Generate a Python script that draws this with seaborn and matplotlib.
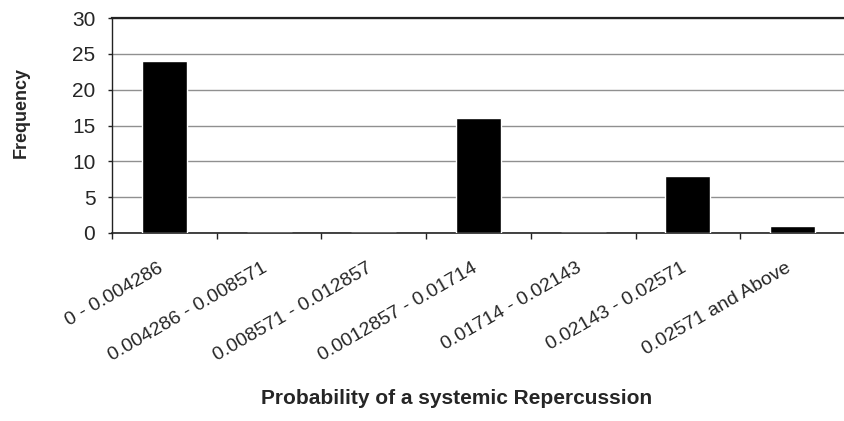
import matplotlib
matplotlib.use("Agg")
import matplotlib.pyplot as plt
import matplotlib.transforms as mtransforms
import seaborn as sns
import pandas as pd
import numpy as np

categories = ["0 - 0.004286", "0.004286 - 0.008571", "0.008571 - 0.012857",
              "0.0012857 - 0.01714", "0.01714 - 0.02143", "0.02143 - 0.02571",
              "0.02571 and Above"]
frequency = [24, 0, 0, 16, 0, 8, 1]
yticks = [0, 5, 10, 15, 20, 25, 30]

sns.set_style("white")
plt.rcParams['font.family'] = ['Liberation Sans', 'DejaVu Sans']

df = pd.DataFrame({"bin": categories, "freq": frequency})

fig = plt.figure(figsize=(8.45, 4.21), dpi=100)
ax = fig.add_axes([0.1325, 0.4466, 0.8675, 0.5106])
sns.barplot(data=df, x="bin", y="freq", color="black", width=0.43,
            saturation=1, ax=ax, zorder=3)

ax.set_ylim(0, 30)
ax.set_yticks(yticks)
ax.set_xlim(-0.5, len(categories) - 0.5)
ax.yaxis.grid(True, color="#909090", linewidth=1.0, zorder=0)
ax.set_axisbelow(True)

for s in ["left", "bottom", "top"]:
    ax.spines[s].set_visible(True)
    ax.spines[s].set_color("#222222")
ax.spines["left"].set_linewidth(1.0)
ax.spines["bottom"].set_linewidth(1.2)
ax.spines["top"].set_linewidth(1.6)
ax.spines["right"].set_visible(False)

ax.tick_params(axis="y", which="major", left=True, length=3, width=1,
               color="#222222", labelsize=15, pad=9)
ax.set_xticks(np.arange(len(categories)))
ax.set_xticklabels(categories, rotation=30, ha="right", va="top",
                   rotation_mode="anchor", fontsize=14)
ax.tick_params(axis="x", which="major", length=0, pad=19)
offset = mtransforms.ScaledTranslation(-7 / 100, 0, fig.dpi_scale_trans)
for lbl in ax.get_xticklabels():
    lbl.set_transform(lbl.get_transform() + offset)
ax.set_xticks(np.arange(len(categories) + 1) - 0.5, minor=True)
ax.tick_params(axis="x", which="minor", bottom=True, length=4, width=1,
               color="#222222")

ax.set_ylabel("Frequency", fontsize=13, fontweight="bold")
ax.yaxis.set_label_coords(-0.112, 0.56)
ax.set_xlabel("Probability of a systemic Repercussion", fontsize=15,
              fontweight="bold")
ax.xaxis.set_label_coords(0.47, -0.725)

fig.savefig("out.png", dpi=100)
